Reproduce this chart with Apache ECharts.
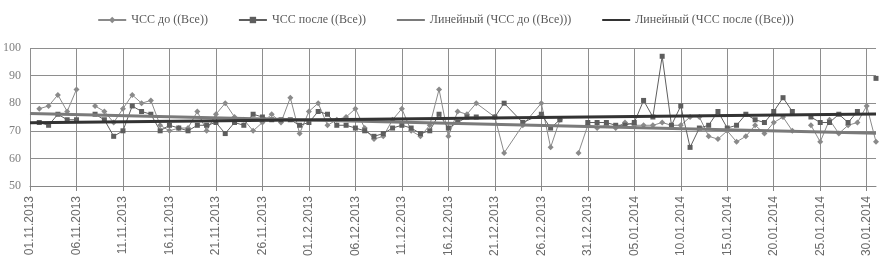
<!DOCTYPE html>
<html>
<head>
<meta charset="utf-8">
<script src="https://cdn.jsdelivr.net/npm/echarts@6/dist/echarts.min.js"></script>
<style>html,body{margin:0;padding:0;background:#fff}#c{width:891px;height:270px}</style>
</head>
<body>
<div id="c"></div>
<script>
// Category dates: 01.11.2013 .. 31.01.2014 (daily)
const startDate = [2013, 10, 1];
const dayCount = 92;
const categories = [];
for (let i = 0; i < dayCount; i++) {
  const d = new Date(Date.UTC(startDate[0], startDate[1], startDate[2] + i));
  const dd = String(d.getUTCDate()).padStart(2, '0');
  const mm = String(d.getUTCMonth() + 1).padStart(2, '0');
  categories.push(dd + '.' + mm + '.' + d.getUTCFullYear());
}

// Rows present in the source table (day index from 01.11.2013); null = empty cell
const rowDay = [1,2,3,4,5,6,7,8,9,10,11,12,13,14,15,16,17,18,19,20,21,22,23,24,25,26,27,28,29,30,
  31,32,33,34,35,36,37,38,39,40,41,42,43,44,45,46,47,48,50,51,53,55,56,57,58,59,60,
  61,62,63,64,65,66,67,68,69,70,71,72,73,74,75,76,77,78,79,80,81,82,83,84,85,86,87,88,89,90,91];
const hrBefore = [78,79,83,77,85,null,79,77,73,78,83,80,81,72,70,71,71,77,70,76,80,75,74,70,73,76,73,82,69,77,
  80,72,74,75,78,71,67,68,74,78,70,68,72,85,68,77,76,80,75,62,72,80,64,74,null,62,72,
  71,72,71,73,72,72,72,73,72,72,75,75,68,67,70,66,68,72,69,73,75,70,null,72,66,74,69,72,73,79,66];
const hrAfter = [73,72,76,74,74,null,76,74,68,70,79,77,76,70,72,71,70,72,72,73,69,73,72,76,75,74,74,74,72,73,
  77,76,72,72,71,70,68,69,71,72,71,69,70,76,71,73,75,75,75,80,73,76,71,74,null,null,73,
  73,73,72,72,73,81,75,97,72,79,64,71,72,77,71,72,76,74,73,77,82,77,null,75,73,73,76,73,77,null,89];

// Linear trend lines: [value at first date, value at last date]
const trendBefore = [76.3, 69.1];
const trendAfter = [72.9, 76.1];

const yTicks = {min: 50, max: 100, interval: 10};

const pairs = (vals) => rowDay.map((d, i) => [d, vals[i] === null ? '-' : vals[i]]);
const trendPairs = (t) => [[0, t[0]], [dayCount - 1, t[1]]];

const chart = echarts.init(document.getElementById('c'));
chart.setOption({
  animation: false,
  legend: {
    top: 9, left: 'center', itemGap: 30, itemWidth: 28, itemHeight: 8,
    textStyle: {fontFamily: 'Liberation Sans Narrow', fontSize: 12, color: '#595959'},
    data: [
      {name: 'ЧСС до ((Все))'},
      {name: 'ЧСС после ((Все))'},
      {name: 'Линейный (ЧСС до ((Все)))', itemStyle: {opacity: 0}},
      {name: 'Линейный (ЧСС после ((Все)))', itemStyle: {opacity: 0}}
    ]
  },
  grid: {left: 28, right: 15, top: 48, bottom: 84},
  xAxis: {
    type: 'category', data: categories, boundaryGap: false,
    axisLine: {lineStyle: {color: '#868686', width: 1}},
    axisTick: {interval: 4, length: 5, lineStyle: {color: '#868686'}},
    axisLabel: {interval: 4, rotate: 90, margin: 10, fontFamily: 'Liberation Sans', fontSize: 12, color: '#6a6a6a'},
    splitLine: {show: true, interval: 4, lineStyle: {color: '#8e8e8e', width: 1}}
  },
  yAxis: {
    type: 'value', min: yTicks.min, max: yTicks.max, interval: yTicks.interval,
    axisLine: {show: false}, axisTick: {show: false},
    axisLabel: {fontFamily: 'Liberation Sans Narrow', fontSize: 12, color: '#7f7f7f', margin: 9},
    splitLine: {lineStyle: {color: '#8e8e8e', width: 1}}
  },
  series: [
    {name: 'ЧСС до ((Все))', type: 'line', data: pairs(hrBefore),
      symbol: 'diamond', symbolSize: 6, showAllSymbol: true,
      itemStyle: {color: '#8a8a8a'}, lineStyle: {color: '#8a8a8a', width: 1}, z: 3},
    {name: 'ЧСС после ((Все))', type: 'line', data: pairs(hrAfter),
      symbol: 'rect', symbolSize: 5, showAllSymbol: true,
      itemStyle: {color: '#5e5e5e'}, lineStyle: {color: '#5e5e5e', width: 1}, z: 3},
    {name: 'Линейный (ЧСС до ((Все)))', type: 'line', data: trendPairs(trendBefore), symbol: 'none',
      lineStyle: {color: '#7a7a7a', width: 3}, itemStyle: {color: '#7a7a7a'}, z: 4},
    {name: 'Линейный (ЧСС после ((Все)))', type: 'line', data: trendPairs(trendAfter), symbol: 'none',
      lineStyle: {color: '#333333', width: 3}, itemStyle: {color: '#333333'}, z: 4}
  ]
});
</script>
</body>
</html>
